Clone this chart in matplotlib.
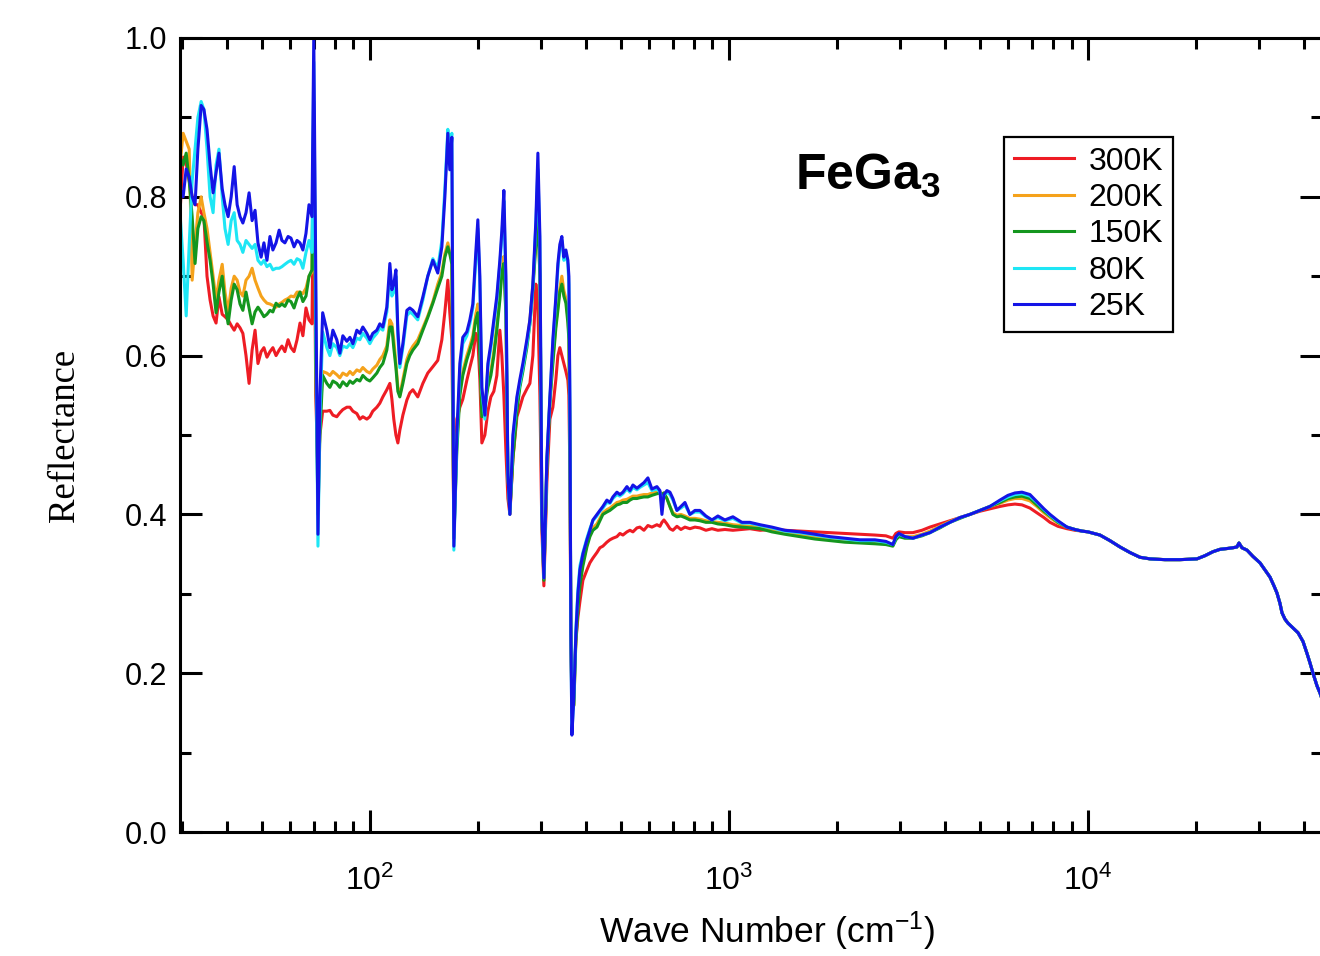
import numpy as np
import matplotlib
matplotlib.use("Agg")
import matplotlib.pyplot as plt
from matplotlib.ticker import LogLocator, NullFormatter, MultipleLocator

plt.rcParams['font.family'] = 'Liberation Sans'
plt.rcParams['mathtext.fontset'] = 'custom'
plt.rcParams['mathtext.rm'] = 'Liberation Sans'
plt.rcParams['mathtext.it'] = 'Liberation Sans:italic'
plt.rcParams['mathtext.bf'] = 'Liberation Sans:bold'

# far-infrared part, wave numbers in cm^-1 (shared by all temperatures)
wn_far = [
    29.6, 30.2, 30.8, 31.4, 32.0, 32.6, 33.2, 33.9, 34.5, 35.2,
    35.9, 36.6, 37.3, 38.0, 38.8, 39.5, 40.3, 41.1, 41.9, 42.7,
    43.5, 44.3, 45.2, 46.1, 47.0, 47.9, 48.8, 49.8, 50.7, 51.7,
    52.7, 53.7, 54.8, 55.9, 56.9, 58.0, 59.2, 60.3, 61.5, 62.7,
    63.9, 65.1, 66.4, 67.7, 69.0,
    69.8, 70.7, 71.7, 72.6, 73.9,
    75.9, 77.4, 78.9, 80.9, 82.5, 84.1, 86.3, 88.0, 89.7, 92.0,
    93.8, 95.6, 98.1, 100.0, 101.9, 104.6, 106.6, 108.7, 111.5, 113.7,
    115.2, 116.6, 118.2, 119.7, 121.2, 123.6, 126.8, 129.2, 131.8, 136.0,
    140.5, 145.0, 149.8, 154.6, 158.7, 161.8, 164.9, 167.0, 169.2,
    171.4, 174.7, 178.1, 181.5, 186.3, 189.9, 193.6, 197.3, 199.9, 202.5,
    205.1, 209.1, 213.2, 217.3, 221.5, 225.8, 230.2, 233.2, 236.2, 239.3,
    242.4, 245.5, 250.3, 256.8, 261.7, 266.8, 273.7, 279.1, 284.5, 290.0,
    293.8, 297.6, 301.4, 305.3, 311.2, 317.3, 323.4, 329.7, 334.0, 338.2,
    342.6, 347.0, 351.6, 356.1, 358.4, 360.7, 363.0, 365.4,
]

# mid-infrared part
wn_mid = [
    370.0, 374.8, 379.7, 384.6, 392.1, 402.3, 410.1, 418.1, 429.0, 437.3,
    445.7, 457.3, 466.2, 475.3, 487.7, 497.1, 506.8, 520.0, 530.1, 540.4,
    554.5, 565.1, 579.9, 594.9, 610.4, 630.3, 642.6, 650.9, 659.3, 672.1,
    685.2, 698.4, 716.6, 735.2, 754.4, 778.9, 804.3, 830.5, 862.9, 896.8,
    931.9, 974.7, 1026, 1087, 1144, 1221, 1318, 1432, 1577, 1736,
    1911, 2104, 2317, 2551, 2737, 2862, 2918, 2974, 3093, 3254,
    3449, 3630, 3870, 4127, 4400, 4692, 5003, 5333, 5687, 5987,
    6262, 6550, 6893, 7210, 7542, 7840, 8249, 8741, 9200, 9623,
]

# near-IR / visible part, identical for all temperatures
wn_tail = [
    10000, 10800, 11510, 12280, 13090, 13960, 14880, 16390, 18040, 20120,
    21180, 22290, 23320, 24390, 25340, 26000, 26340, 26850, 27730, 28820,
    30140, 31120, 32140, 32970, 33610, 34260, 34710, 35380, 36070, 37240,
    38460, 39710, 40740, 41530, 42340, 43450, 44290, 45430,
]
r_tail = [
    0.378, 0.374, 0.367, 0.359, 0.352, 0.346, 0.344, 0.343, 0.343, 0.344,
    0.348, 0.353, 0.356, 0.357, 0.358, 0.359, 0.364, 0.358, 0.355, 0.347,
    0.339, 0.33, 0.321, 0.31, 0.301, 0.288, 0.276, 0.268, 0.263, 0.257,
    0.251, 0.24, 0.225, 0.213, 0.20, 0.184, 0.175, 0.16,
]

r300_far = [
    0.78, 0.85, 0.842, 0.82, 0.80, 0.79, 0.79, 0.78, 0.775, 0.70,
    0.67, 0.65, 0.641, 0.674, 0.652, 0.649, 0.645, 0.638, 0.632, 0.64,
    0.635, 0.628, 0.60, 0.565, 0.607, 0.632, 0.59, 0.605, 0.61, 0.598,
    0.605, 0.61, 0.60, 0.607, 0.612, 0.605, 0.62, 0.61, 0.605, 0.62,
    0.641, 0.625, 0.66, 0.645, 0.64,
    0.85, 0.55, 0.45, 0.50, 0.53,
    0.53, 0.531, 0.525, 0.523, 0.528, 0.532, 0.535, 0.535, 0.53, 0.527,
    0.52, 0.523, 0.52, 0.523, 0.53, 0.535, 0.54, 0.548, 0.557, 0.565,
    0.545, 0.52, 0.50, 0.49, 0.506, 0.525, 0.544, 0.553, 0.557, 0.548,
    0.565, 0.578, 0.586, 0.594, 0.62, 0.655, 0.695, 0.654, 0.62,
    0.38, 0.52, 0.535, 0.545, 0.569, 0.585, 0.60, 0.628, 0.62, 0.57,
    0.49, 0.50, 0.53, 0.548, 0.555, 0.575, 0.632, 0.60, 0.55, 0.48,
    0.42, 0.40, 0.47, 0.523, 0.535, 0.548, 0.558, 0.565, 0.60, 0.69,
    0.66, 0.55, 0.38, 0.31, 0.44, 0.52, 0.535, 0.57, 0.60, 0.61,
    0.60, 0.59, 0.58, 0.569, 0.55, 0.45, 0.25, 0.17,
]
r300_mid = [
    0.19, 0.24, 0.27, 0.29, 0.317, 0.33, 0.339, 0.345, 0.352, 0.358,
    0.36, 0.365, 0.368, 0.37, 0.372, 0.376, 0.374, 0.378, 0.38, 0.378,
    0.383, 0.384, 0.38, 0.386, 0.384, 0.387, 0.385, 0.39, 0.393, 0.388,
    0.382, 0.38, 0.385, 0.381, 0.384, 0.382, 0.384, 0.383, 0.38, 0.382,
    0.38, 0.381, 0.38, 0.381, 0.382, 0.38, 0.381, 0.38, 0.379, 0.378,
    0.377, 0.376, 0.375, 0.374, 0.373, 0.37, 0.376, 0.378, 0.377, 0.377,
    0.38, 0.384, 0.388, 0.392, 0.396, 0.40, 0.404, 0.407, 0.41, 0.412,
    0.413, 0.412, 0.408, 0.402, 0.396, 0.39, 0.385, 0.382, 0.38, 0.379,
]

r200_far = [
    0.84, 0.88, 0.87, 0.86, 0.695, 0.74, 0.78, 0.80, 0.78, 0.76,
    0.73, 0.70, 0.67, 0.695, 0.715, 0.68, 0.655, 0.685, 0.70, 0.695,
    0.68, 0.675, 0.695, 0.70, 0.71, 0.695, 0.685, 0.675, 0.67, 0.666,
    0.665, 0.663, 0.661, 0.665, 0.667, 0.67, 0.672, 0.675, 0.674, 0.68,
    0.68, 0.678, 0.685, 0.70, 0.705,
    0.90, 0.60, 0.43, 0.52, 0.58,
    0.578, 0.575, 0.58, 0.576, 0.572, 0.578, 0.575, 0.58, 0.576, 0.582,
    0.58, 0.585, 0.58, 0.578, 0.583, 0.588, 0.595, 0.60, 0.612, 0.645,
    0.64, 0.62, 0.59, 0.56, 0.55, 0.57, 0.595, 0.605, 0.612, 0.62,
    0.635, 0.65, 0.668, 0.69, 0.705, 0.728, 0.742, 0.73, 0.72,
    0.37, 0.49, 0.555, 0.58, 0.60, 0.612, 0.625, 0.652, 0.665, 0.61,
    0.525, 0.54, 0.565, 0.58, 0.605, 0.638, 0.678, 0.712, 0.725, 0.655,
    0.45, 0.405, 0.475, 0.535, 0.565, 0.585, 0.615, 0.645, 0.69, 0.745,
    0.78, 0.70, 0.40, 0.32, 0.465, 0.545, 0.595, 0.64, 0.663, 0.685,
    0.70, 0.682, 0.672, 0.648, 0.625, 0.50, 0.26, 0.15,
]
r200_mid = [
    0.16, 0.245, 0.285, 0.315, 0.34, 0.362, 0.375, 0.383, 0.388, 0.395,
    0.402, 0.406, 0.408, 0.411, 0.415, 0.416, 0.418, 0.419, 0.421, 0.423,
    0.423, 0.424, 0.425, 0.425, 0.427, 0.428, 0.428, 0.426, 0.427, 0.42,
    0.41, 0.402, 0.399, 0.40, 0.398, 0.395, 0.395, 0.394, 0.392, 0.391,
    0.39, 0.389, 0.387, 0.386, 0.385, 0.384, 0.38, 0.377, 0.374, 0.371,
    0.369, 0.367, 0.366, 0.365, 0.364, 0.362, 0.37, 0.374, 0.372, 0.372,
    0.375, 0.379, 0.385, 0.391, 0.396, 0.40, 0.405, 0.41, 0.414, 0.418,
    0.42, 0.42, 0.417, 0.41, 0.402, 0.396, 0.389, 0.384, 0.381, 0.379,
]

r150_far = [
    0.85, 0.84, 0.855, 0.82, 0.775, 0.716, 0.76, 0.775, 0.77, 0.743,
    0.72, 0.69, 0.654, 0.68, 0.70, 0.665, 0.64, 0.67, 0.69, 0.683,
    0.665, 0.657, 0.68, 0.66, 0.64, 0.655, 0.661, 0.655, 0.649, 0.652,
    0.657, 0.655, 0.666, 0.662, 0.665, 0.662, 0.67, 0.668, 0.66, 0.672,
    0.68, 0.668, 0.675, 0.70, 0.708,
    0.92, 0.60, 0.40, 0.50, 0.575,
    0.565, 0.56, 0.568, 0.565, 0.56, 0.567, 0.562, 0.568, 0.565, 0.57,
    0.568, 0.575, 0.57, 0.568, 0.572, 0.578, 0.585, 0.59, 0.607, 0.636,
    0.636, 0.61, 0.585, 0.555, 0.548, 0.565, 0.59, 0.60, 0.607, 0.615,
    0.632, 0.648, 0.666, 0.685, 0.70, 0.724, 0.737, 0.728, 0.715,
    0.37, 0.48, 0.55, 0.575, 0.595, 0.607, 0.62, 0.645, 0.654, 0.60,
    0.523, 0.535, 0.56, 0.575, 0.60, 0.632, 0.67, 0.705, 0.716, 0.65,
    0.45, 0.403, 0.47, 0.53, 0.56, 0.58, 0.61, 0.64, 0.683, 0.74,
    0.775, 0.70, 0.40, 0.317, 0.46, 0.54, 0.59, 0.635, 0.657, 0.68,
    0.69, 0.675, 0.666, 0.641, 0.62, 0.50, 0.26, 0.15,
]
r150_mid = [
    0.16, 0.24, 0.28, 0.31, 0.335, 0.359, 0.372, 0.38, 0.384, 0.392,
    0.40, 0.403, 0.405, 0.408, 0.412, 0.413, 0.415, 0.415, 0.418, 0.42,
    0.42, 0.421, 0.422, 0.422, 0.424, 0.426, 0.427, 0.425, 0.427, 0.42,
    0.41, 0.40, 0.397, 0.398, 0.396, 0.393, 0.393, 0.392, 0.39, 0.39,
    0.388, 0.387, 0.385, 0.384, 0.383, 0.382, 0.378, 0.375, 0.372, 0.369,
    0.367, 0.365, 0.364, 0.363, 0.362, 0.36, 0.368, 0.372, 0.37, 0.37,
    0.373, 0.377, 0.383, 0.39, 0.395, 0.40, 0.405, 0.41, 0.415, 0.42,
    0.422, 0.423, 0.42, 0.412, 0.404, 0.398, 0.39, 0.384, 0.381, 0.379,
]

r80_far = [
    0.78, 0.72, 0.65, 0.74, 0.82, 0.86, 0.90, 0.92, 0.91, 0.86,
    0.80, 0.78, 0.84, 0.86, 0.80, 0.76, 0.74, 0.77, 0.78, 0.745,
    0.74, 0.73, 0.745, 0.74, 0.735, 0.74, 0.72, 0.715, 0.72, 0.712,
    0.715, 0.708, 0.71, 0.71, 0.712, 0.715, 0.718, 0.72, 0.715, 0.722,
    0.72, 0.71, 0.73, 0.745, 0.73,
    0.97, 0.65, 0.36, 0.52, 0.63,
    0.61, 0.60, 0.615, 0.61, 0.60, 0.612, 0.61, 0.615, 0.61, 0.622,
    0.62, 0.628, 0.622, 0.615, 0.622, 0.628, 0.635, 0.632, 0.655, 0.705,
    0.675, 0.68, 0.70, 0.625, 0.585, 0.61, 0.65, 0.655, 0.652, 0.645,
    0.67, 0.70, 0.722, 0.71, 0.745, 0.81, 0.885, 0.86, 0.88,
    0.355, 0.49, 0.58, 0.615, 0.625, 0.64, 0.66, 0.72, 0.76, 0.69,
    0.555, 0.52, 0.585, 0.61, 0.64, 0.67, 0.715, 0.75, 0.795, 0.69,
    0.45, 0.40, 0.495, 0.545, 0.565, 0.585, 0.615, 0.64, 0.685, 0.765,
    0.835, 0.74, 0.40, 0.32, 0.47, 0.545, 0.615, 0.67, 0.71, 0.735,
    0.745, 0.72, 0.728, 0.715, 0.69, 0.54, 0.25, 0.125,
]
r80_mid = [
    0.17, 0.255, 0.305, 0.335, 0.352, 0.37, 0.382, 0.392, 0.398, 0.404,
    0.408, 0.415, 0.414, 0.42, 0.425, 0.423, 0.426, 0.432, 0.428, 0.434,
    0.431, 0.434, 0.437, 0.44, 0.43, 0.432, 0.428, 0.415, 0.424, 0.428,
    0.425, 0.418, 0.405, 0.408, 0.412, 0.40, 0.403, 0.403, 0.397, 0.393,
    0.396, 0.392, 0.395, 0.389, 0.389, 0.386, 0.383, 0.379, 0.377, 0.374,
    0.371, 0.369, 0.367, 0.367, 0.365, 0.362, 0.371, 0.375, 0.372, 0.37,
    0.374, 0.377, 0.384, 0.39, 0.396, 0.40, 0.405, 0.41, 0.417, 0.422,
    0.425, 0.426, 0.423, 0.415, 0.406, 0.399, 0.391, 0.384, 0.381, 0.379,
]

r25_far = [
    0.81, 0.80, 0.835, 0.825, 0.80, 0.79, 0.86, 0.915, 0.91, 0.885,
    0.84, 0.805, 0.83, 0.855, 0.81, 0.79, 0.775, 0.80, 0.838, 0.79,
    0.775, 0.767, 0.78, 0.805, 0.77, 0.783, 0.742, 0.724, 0.742, 0.72,
    0.75, 0.733, 0.742, 0.758, 0.745, 0.742, 0.75, 0.748, 0.737, 0.745,
    0.742, 0.733, 0.754, 0.79, 0.775,
    1.0, 0.70, 0.375, 0.55, 0.654,
    0.632, 0.61, 0.632, 0.62, 0.603, 0.625, 0.618, 0.623, 0.615, 0.632,
    0.628, 0.636, 0.628, 0.62, 0.628, 0.632, 0.64, 0.636, 0.661, 0.716,
    0.683, 0.69, 0.708, 0.632, 0.59, 0.615, 0.657, 0.66, 0.657, 0.649,
    0.674, 0.70, 0.72, 0.704, 0.737, 0.80, 0.88, 0.834, 0.875,
    0.36, 0.50, 0.59, 0.623, 0.63, 0.645, 0.665, 0.73, 0.771, 0.70,
    0.56, 0.525, 0.59, 0.615, 0.645, 0.675, 0.72, 0.758, 0.808, 0.70,
    0.45, 0.40, 0.50, 0.548, 0.57, 0.59, 0.62, 0.645, 0.69, 0.77,
    0.855, 0.75, 0.40, 0.32, 0.47, 0.548, 0.62, 0.674, 0.716, 0.74,
    0.75, 0.724, 0.733, 0.72, 0.70, 0.55, 0.25, 0.122,
]
r25_mid = [
    0.17, 0.25, 0.30, 0.33, 0.35, 0.368, 0.38, 0.393, 0.40, 0.405,
    0.41, 0.418, 0.415, 0.422, 0.428, 0.425, 0.428, 0.435, 0.43, 0.437,
    0.433, 0.436, 0.44, 0.446, 0.432, 0.435, 0.43, 0.40, 0.425, 0.43,
    0.428, 0.42, 0.405, 0.41, 0.415, 0.40, 0.405, 0.405, 0.398, 0.393,
    0.398, 0.393, 0.397, 0.39, 0.39, 0.387, 0.384, 0.38, 0.378, 0.375,
    0.372, 0.37, 0.368, 0.368, 0.366, 0.362, 0.372, 0.376, 0.372, 0.37,
    0.374, 0.377, 0.384, 0.39, 0.396, 0.40, 0.405, 0.41, 0.418, 0.424,
    0.427, 0.428, 0.425, 0.416, 0.407, 0.40, 0.392, 0.384, 0.381, 0.379,
]

labels = ["300K", "200K", "150K", "80K", "25K"]
colors = ["#ee1c24", "#f5a21b", "#14961e", "#1ee6f5", "#1414e6"]
series = [
    (r300_far, r300_mid),
    (r200_far, r200_mid),
    (r150_far, r150_mid),
    (r80_far, r80_mid),
    (r25_far, r25_mid),
]

W, H = 1320, 956
fig = plt.figure(figsize=(W / 100, H / 100), dpi=100)
ax = fig.add_axes([180 / W, 124 / H, 1142 / W, 794 / H])

wn = np.concatenate([wn_far, wn_mid, wn_tail])
for (far, mid), lab, col in zip(series, labels, colors):
    r = np.concatenate([far, mid, r_tail])
    ax.plot(wn, r, color=col, lw=2.2, label=lab)

ax.set_xscale('log')
ax.set_xlim(29.6, 44860)
ax.set_ylim(0.0, 1.0)

ax.xaxis.set_major_locator(LogLocator(base=10))
ax.xaxis.set_minor_locator(LogLocator(base=10, subs=np.arange(2, 10)))
ax.xaxis.set_minor_formatter(NullFormatter())
ax.yaxis.set_major_locator(MultipleLocator(0.2))
ax.yaxis.set_minor_locator(MultipleLocator(0.1))
ax.yaxis.set_major_formatter(plt.FuncFormatter(lambda v, p: "%.1f" % v))

for s in ax.spines.values():
    s.set_linewidth(2.2)
ax.tick_params(which='both', direction='in', top=True, right=True, width=2.2)
ax.tick_params(which='major', length=16)
ax.tick_params(which='minor', length=8)
ax.tick_params(axis='y', pad=9, labelsize=22)
ax.tick_params(axis='x', pad=24, labelsize=23)

ax.set_xlabel(r'Wave Number (cm$^{-1}$)', fontsize=25.5)
ax.xaxis.set_label_coords(0.514, -0.098)
ax.set_ylabel('Reflectance', fontsize=26.5, family='Liberation Serif')
ax.yaxis.set_label_coords(-0.086, 0.5)

fig.text(795 / W, (H - 190) / H, r'FeGa$_\mathbf{3}$', fontsize=36,
         fontweight='bold', va='baseline', ha='left')

leg = ax.legend(loc='upper left', bbox_to_anchor=(1004 / W, (H - 137) / H),
                bbox_transform=fig.transFigure, borderaxespad=0, fontsize=23,
                frameon=True, fancybox=False, framealpha=1, edgecolor='black',
                handlelength=1.9, handletextpad=0.45, labelspacing=0.2,
                borderpad=0.3)
leg.get_frame().set_linewidth(1.6)

fig.savefig('out.png', dpi=100)
